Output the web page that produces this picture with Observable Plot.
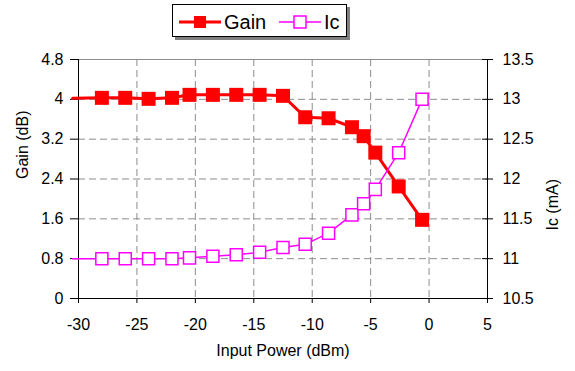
<!DOCTYPE html>
<html><head><meta charset="utf-8">
<script src="https://cdn.jsdelivr.net/npm/d3@7"></script>
<script src="https://cdn.jsdelivr.net/npm/@observablehq/plot@0.6"></script>
<style>
body{margin:0;background:#fff;}
#wrap{position:relative;width:575px;height:371px;font-family:"Liberation Sans",Arial,sans-serif;background:#fff;}
#legend{position:absolute;left:172px;top:4px;width:173px;height:31px;border:1px solid #000;box-shadow:3px 3px 0 #808080;background:#fff;}
#legend svg{position:absolute;left:0;top:0;}
</style></head><body><div id="wrap"><div id="chart"></div><div id="legend"></div></div>
<script>
const inputPower = [-30.5, -28, -26, -24, -22, -20.5, -18.5, -16.5, -14.5, -12.5, -10.6, -8.6, -6.6, -5.6, -4.6, -2.6, -0.6];
const gainDb     = [4.02, 4.03, 4.03, 4.01, 4.03, 4.09, 4.09, 4.09, 4.09, 4.07, 3.64, 3.62, 3.44, 3.26, 2.93, 2.25, 1.58];
const icMa       = [11.0, 11.0, 11.0, 11.0, 11.0, 11.01, 11.03, 11.05, 11.08, 11.14, 11.18, 11.32, 11.55, 11.69, 11.87, 12.33, 13.0];
const xTicks = [-30, -25, -20, -15, -10, -5, 0, 5];
const gainTicks = [0, 0.8, 1.6, 2.4, 3.2, 4, 4.8];
const icTicks = [10.5, 11, 11.5, 12, 12.5, 13, 13.5];
const seriesNames = ["Gain", "Ic"];
const colors = ["#ff0000", "#ff00ff"];
const xLabel = "Input Power (dBm)";
const yLabel = "Gain (dB)";
const y2Label = "Ic (mA)";

const icMin = icTicks[0], icMax = icTicks[icTicks.length - 1];
const gMin = gainTicks[0], gMax = gainTicks[gainTicks.length - 1];
const icToG = v => (v - icMin) / (icMax - icMin) * (gMax - gMin) + gMin;
const gToIc = g => (g - gMin) / (gMax - gMin) * (icMax - icMin) + icMin;
const rows = inputPower.map((x, i) => ({x, gain: gainDb[i], ic: icMa[i], icG: icToG(icMa[i])}));
const shown = rows.filter(d => d.x >= xTicks[0]);
const grid = {stroke: "#8c8c8c", strokeOpacity: 1, strokeDasharray: "7,4"};

const chart = Plot.plot({
  width: 575, height: 371,
  marginLeft: 78, marginRight: 88, marginTop: 59, marginBottom: 73,
  style: {fontFamily: "Liberation Sans, Arial, sans-serif", fontSize: "16px", color: "#000", background: "#fff", overflow: "visible"},
  x: {domain: [xTicks[0], xTicks[xTicks.length - 1]]},
  y: {domain: [gMin, gMax]},
  marks: [
    Plot.gridX(xTicks.slice(1, -1), grid),
    Plot.gridY(gainTicks.slice(1, -1), grid),
    Plot.ruleY([gMax], {stroke: "#8c8c8c"}),
    Plot.ruleY([gMin], {stroke: "#000"}),
    Plot.ruleX([xTicks[0], xTicks[xTicks.length - 1]], {stroke: "#000"}),
    Plot.axisX(xTicks, {tickSize: 5, tickPadding: 15, tickFormat: d => String(d), label: null, fontSize: 16}),
    Plot.axisY(gainTicks, {anchor: "left", tickSize: 8, tickPadding: 7, tickFormat: d => String(d), label: null, fontSize: 16}),
    Plot.axisY(icTicks.map(icToG), {anchor: "right", tickSize: 11, insetRight: 6, tickPadding: 10,
      tickFormat: g => String(+gToIc(g).toFixed(2)), label: null, fontSize: 16}),
    Plot.line(rows, {x: "x", y: "gain", stroke: colors[0], strokeWidth: 3}),
    Plot.dot(shown, {x: "x", y: "gain", symbol: "square", r: 7.9, fill: colors[0], stroke: null}),
    Plot.line(rows, {x: "x", y: "icG", stroke: colors[1], strokeWidth: 1.5}),
    Plot.dot(shown, {x: "x", y: "icG", symbol: "square", r: 6.8, fill: "#fff", stroke: colors[1], strokeWidth: 1.5}),
    Plot.text([xLabel], {text: d => d, frameAnchor: "bottom", dy: 57, fontSize: 16}),
    Plot.text([yLabel], {text: d => d, frameAnchor: "left", rotate: -90, dx: -56, fontSize: 16}),
    Plot.text([y2Label], {text: d => d, frameAnchor: "right", rotate: -90, dx: 65, fontSize: 16})
  ]
});
document.getElementById("chart").appendChild(chart);

// legend
const lg = d3.select("#legend").append("svg").attr("width", 173).attr("height", 31);
const itemX = [6, 106];
const lineW = 42;
seriesNames.forEach((name, i) => {
  const g = lg.append("g").attr("transform", `translate(${itemX[i]},17)`);
  g.append("line").attr("x1", 0).attr("x2", lineW).attr("y1", 0).attr("y2", 0)
    .attr("stroke", colors[i]).attr("stroke-width", i === 0 ? 3 : 1.5);
  g.append("rect").attr("x", lineW / 2 - 6).attr("y", -6).attr("width", 12).attr("height", 12)
    .attr("fill", i === 0 ? colors[i] : "#fff").attr("stroke", colors[i]).attr("stroke-width", i === 0 ? 0 : 1.5);
  g.append("text").attr("x", lineW + 3).attr("y", 7).attr("font-size", 20)
    .attr("font-family", "Liberation Sans, Arial, sans-serif").attr("fill", "#000").text(name);
});
</script></body></html>
